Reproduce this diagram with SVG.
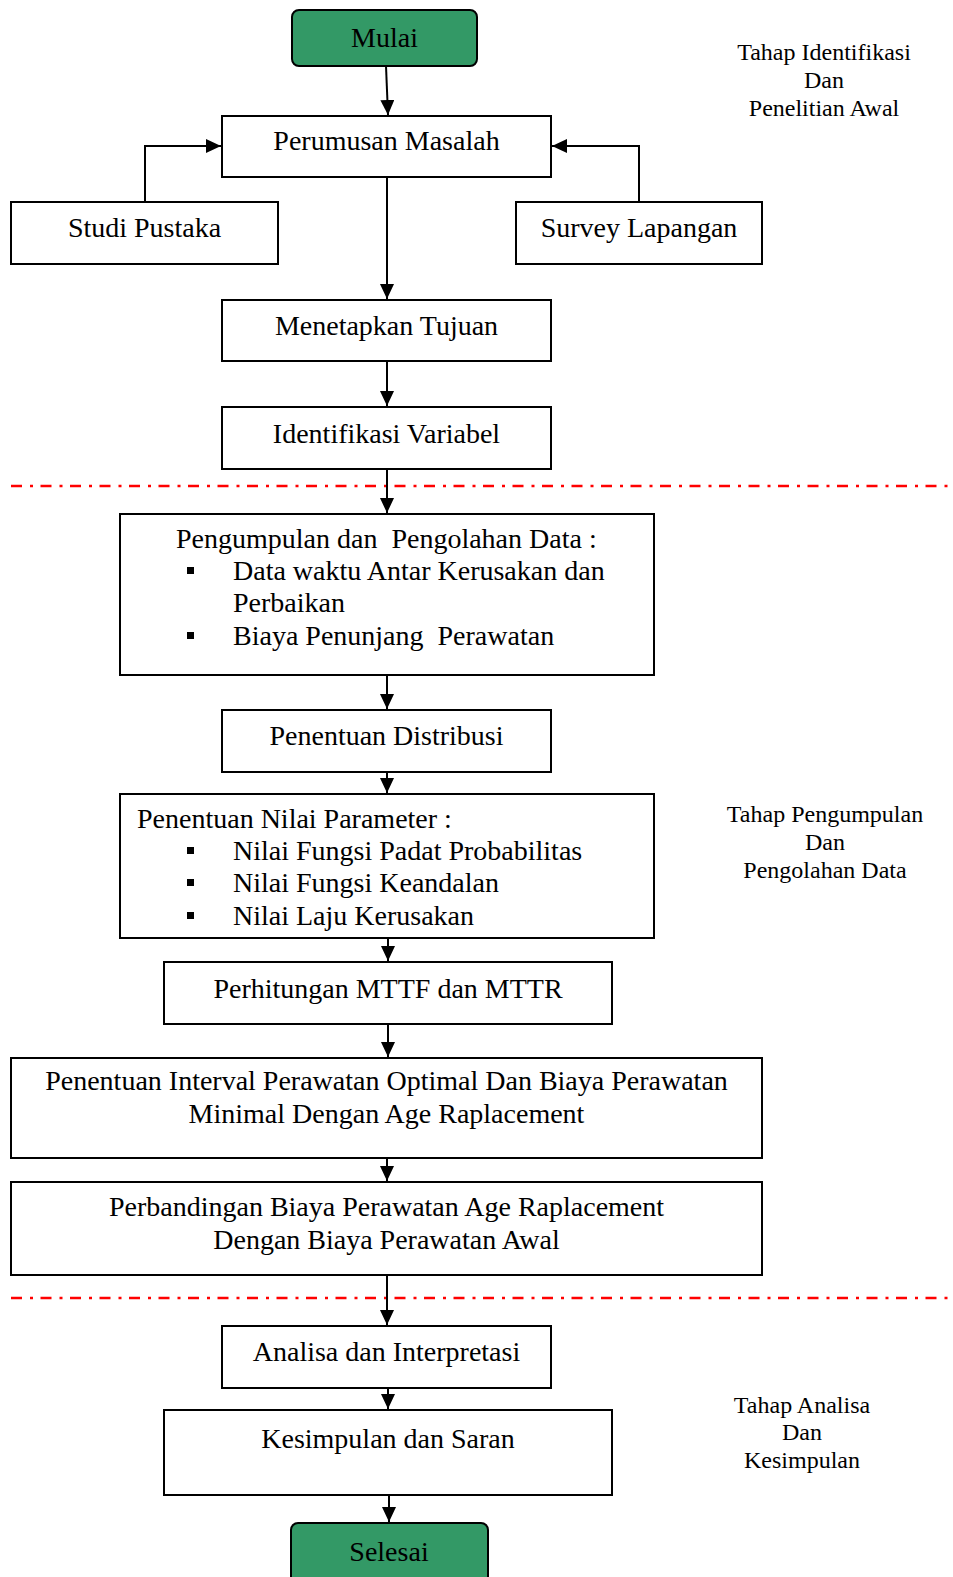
<svg xmlns="http://www.w3.org/2000/svg" width="953" height="1577" viewBox="0 0 953 1577">
<style>
.box{fill:#fff;stroke:#000;stroke-width:2}
.term{fill:#339966;stroke:#000;stroke-width:2}
.t{font-family:"Liberation Serif","Times New Roman",serif;font-size:28px;fill:#000}
.c{text-anchor:middle}
.s{font-family:"Liberation Serif","Times New Roman",serif;font-size:24px;fill:#000;text-anchor:middle}
.pre{white-space:pre}
.conn{fill:none;stroke:#000;stroke-width:2}
.sep{stroke:#ff0000;stroke-width:2.3;stroke-dasharray:11 8 3 7.5}
</style>
<defs>
<marker id="ah" markerUnits="userSpaceOnUse" markerWidth="16" markerHeight="16" refX="15" refY="7" orient="auto">
<path d="M0,0 L15,7 L0,14 z" fill="#000"/>
</marker>
</defs>
<rect width="953" height="1577" fill="#fff"/>

<g id="separators">
<line class="sep" x1="11" y1="486" x2="953" y2="486"/>
<line class="sep" x1="11" y1="1298" x2="953" y2="1298"/>
</g>

<g id="connectors">
<path class="conn" marker-end="url(#ah)" d="M386,66 L388,115"/>
<path class="conn" marker-end="url(#ah)" d="M145,202 V146 H221"/>
<path class="conn" marker-end="url(#ah)" d="M639,202 V146 H552"/>
<path class="conn" marker-end="url(#ah)" d="M387,177 V299"/>
<path class="conn" marker-end="url(#ah)" d="M387,361 V406"/>
<path class="conn" marker-end="url(#ah)" d="M387,469 V513"/>
<path class="conn" marker-end="url(#ah)" d="M387,675 V709"/>
<path class="conn" marker-end="url(#ah)" d="M387,772 V793"/>
<path class="conn" marker-end="url(#ah)" d="M388,938 V961"/>
<path class="conn" marker-end="url(#ah)" d="M388,1024 V1057"/>
<path class="conn" marker-end="url(#ah)" d="M387,1158 V1181"/>
<path class="conn" marker-end="url(#ah)" d="M387,1275 V1325"/>
<path class="conn" marker-end="url(#ah)" d="M388,1388 V1409"/>
<path class="conn" marker-end="url(#ah)" d="M389,1495 V1522"/>
</g>

<g id="mulai">
<rect class="term" x="292" y="10" width="185" height="56" rx="7"/>
<text class="t c" x="384.5" y="47">Mulai</text>
</g>

<g id="perumusan">
<rect class="box" x="222" y="116" width="329" height="61"/>
<text class="t c" x="386.5" y="150">Perumusan Masalah</text>
</g>

<g id="studi">
<rect class="box" x="11" y="202" width="267" height="62"/>
<text class="t c" x="144.5" y="237">Studi Pustaka</text>
</g>

<g id="survey">
<rect class="box" x="516" y="202" width="246" height="62"/>
<text class="t c" x="639" y="237">Survey Lapangan</text>
</g>

<g id="menetapkan">
<rect class="box" x="222" y="300" width="329" height="61"/>
<text class="t c" x="386.5" y="335">Menetapkan Tujuan</text>
</g>

<g id="identifikasi">
<rect class="box" x="222" y="407" width="329" height="62"/>
<text class="t c" x="386.5" y="443">Identifikasi Variabel</text>
</g>

<g id="pengumpulan">
<rect class="box" x="120" y="514" width="534" height="161"/>
<text class="t pre" x="176" y="548">Pengumpulan dan  Pengolahan Data :</text>
<rect x="187" y="567" width="7" height="7" fill="#000"/>
<text class="t" x="233" y="580">Data waktu Antar Kerusakan dan</text>
<text class="t" x="233" y="612">Perbaikan</text>
<rect x="187" y="632" width="7" height="7" fill="#000"/>
<text class="t pre" x="233" y="645">Biaya Penunjang  Perawatan</text>
</g>

<g id="distribusi">
<rect class="box" x="222" y="710" width="329" height="62"/>
<text class="t c" x="386.5" y="745">Penentuan Distribusi</text>
</g>

<g id="parameter">
<rect class="box" x="120" y="794" width="534" height="144"/>
<text class="t" x="137" y="828">Penentuan Nilai Parameter :</text>
<rect x="187" y="847" width="7" height="7" fill="#000"/>
<text class="t" x="233" y="860">Nilai Fungsi Padat Probabilitas</text>
<rect x="187" y="879" width="7" height="7" fill="#000"/>
<text class="t" x="233" y="892">Nilai Fungsi Keandalan</text>
<rect x="187" y="912" width="7" height="7" fill="#000"/>
<text class="t" x="233" y="925">Nilai Laju Kerusakan</text>
</g>

<g id="mttf">
<rect class="box" x="164" y="962" width="448" height="62"/>
<text class="t c" x="388" y="998">Perhitungan MTTF dan MTTR</text>
</g>

<g id="interval">
<rect class="box" x="11" y="1058" width="751" height="100"/>
<text class="t c" x="386.5" y="1090">Penentuan Interval Perawatan Optimal Dan Biaya Perawatan</text>
<text class="t c" x="386.5" y="1123">Minimal Dengan Age Raplacement</text>
</g>

<g id="perbandingan">
<rect class="box" x="11" y="1182" width="751" height="93"/>
<text class="t c" x="386.5" y="1216">Perbandingan Biaya Perawatan Age Raplacement</text>
<text class="t c" x="386.5" y="1249">Dengan Biaya Perawatan Awal</text>
</g>

<g id="analisa">
<rect class="box" x="222" y="1326" width="329" height="62"/>
<text class="t c" x="386.5" y="1361">Analisa dan Interpretasi</text>
</g>

<g id="kesimpulan">
<rect class="box" x="164" y="1410" width="448" height="85"/>
<text class="t c" x="388" y="1448">Kesimpulan dan Saran</text>
</g>

<g id="selesai">
<rect class="term" x="291" y="1523" width="197" height="70" rx="7"/>
<text class="t c" x="389" y="1561">Selesai</text>
</g>

<g id="label-identifikasi">
<text class="s" x="824" y="60">Tahap Identifikasi</text>
<text class="s" x="824" y="88">Dan</text>
<text class="s" x="824" y="116">Penelitian Awal</text>
</g>

<g id="label-pengumpulan">
<text class="s" x="825" y="822">Tahap Pengumpulan</text>
<text class="s" x="825" y="850">Dan</text>
<text class="s" x="825" y="878">Pengolahan Data</text>
</g>

<g id="label-analisa">
<text class="s" x="802" y="1413">Tahap Analisa</text>
<text class="s" x="802" y="1440">Dan</text>
<text class="s" x="802" y="1468">Kesimpulan</text>
</g>
</svg>
